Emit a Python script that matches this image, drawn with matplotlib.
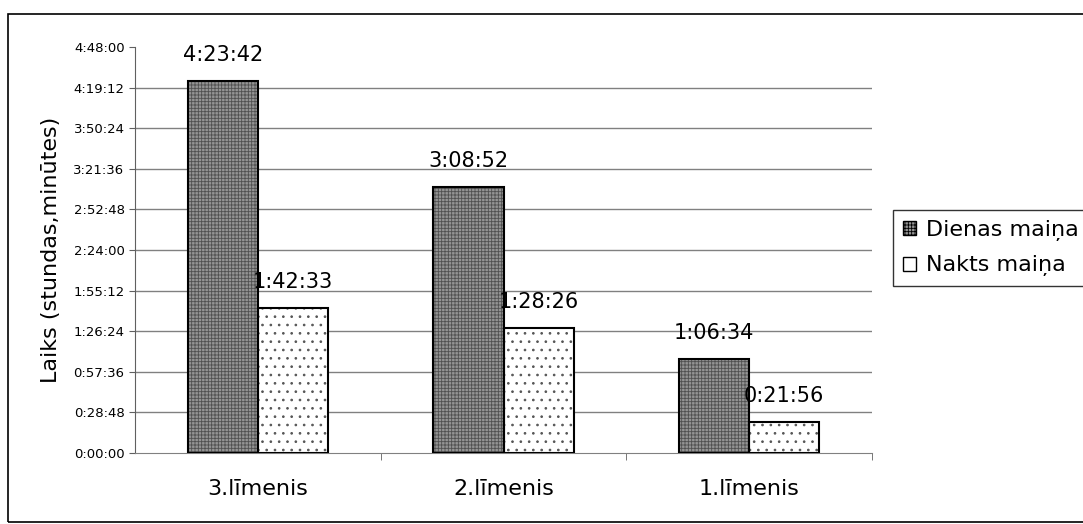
import numpy as np
import matplotlib
matplotlib.use('Agg')
import matplotlib.pyplot as plt
from matplotlib.patches import Rectangle, Patch
from matplotlib.ticker import FixedLocator, FuncFormatter

# dati: laiks sekundēs
limeni = ['3.līmenis', '2.līmenis', '1.līmenis']
dienas = [4*3600 + 23*60 + 42, 3*3600 + 8*60 + 52, 1*3600 + 6*60 + 34]
nakts = [1*3600 + 42*60 + 33, 1*3600 + 28*60 + 26, 0*3600 + 21*60 + 56]
serijas = ['Dienas maiņa', 'Nakts maiņa']
solis = 1728  # 0:28:48


def hms(s, pos=None):
    s = int(round(s))
    return '%d:%02d:%02d' % (s // 3600, (s % 3600) // 60, s % 60)


plt.rcParams['font.family'] = ['DejaVu Sans']
plt.rcParams['hatch.linewidth'] = 0.6

fig = plt.figure(figsize=(10.83, 5.24), dpi=100)
# ārējais rāmis (labā mala ārpus attēla)
fig.patches.append(Rectangle((7.5 / 1083, 2 / 524), 1100 / 1083, 508 / 524,
                             transform=fig.transFigure, fill=False,
                             edgecolor='black', linewidth=1.2))
ax = fig.add_axes([135 / 1083, 71 / 524, 737 / 1083, 406 / 524])

x = np.arange(len(limeni))
w = 1 / 3.5
# dienas maiņa - tumšs rūtots
ax.bar(x - w / 2, dienas, w, color='#949494', hatch='+++++', edgecolor='#505050',
       linewidth=0, zorder=3)
ax.bar(x - w / 2, dienas, w, fill=False, edgecolor='black', linewidth=1.5, zorder=4)
# nakts maiņa - balts ar punktiem
plt.rcParams['hatch.linewidth'] = 0.7
ax.bar(x + w / 2, nakts, w, color='white', hatch='..', edgecolor='#555555',
       linewidth=0, zorder=3)
ax.bar(x + w / 2, nakts, w, fill=False, edgecolor='black', linewidth=1.5, zorder=4)
plt.rcParams['hatch.linewidth'] = 0.6

for xi, v in zip(x - w / 2, dienas):
    ax.text(xi, v + 850, hms(v), ha='center', va='baseline', fontsize=15, zorder=5)
for xi, v in zip(x + w / 2, nakts):
    ax.text(xi, v + 850, hms(v), ha='center', va='baseline', fontsize=15, zorder=5)

ax.set_xlim(-0.5, 2.5)
ax.set_ylim(0, 10 * solis)
ax.yaxis.set_major_locator(FixedLocator(np.arange(0, 11) * solis))
ax.yaxis.set_major_formatter(FuncFormatter(hms))
ax.tick_params(axis='y', labelsize=9.5, length=4.5, color='#606060', pad=3)
for yv in np.arange(1, 10) * solis:
    ax.axhline(yv, color='#808080', linewidth=1, zorder=1)

ax.set_xticks(x)
ax.set_xticklabels(limeni, fontsize=16)
ax.tick_params(axis='x', which='major', length=0, pad=19)
ax.xaxis.set_minor_locator(FixedLocator([0.5, 1.5, 2.5]))
ax.tick_params(axis='x', which='minor', length=5, color='#606060')

for s in ['top', 'right']:
    ax.spines[s].set_visible(False)
ax.spines['left'].set_color('#606060')
ax.spines['bottom'].set_color('#808080')

ax.set_ylabel('Laiks (stundas,minūtes)', fontsize=16, labelpad=9)

handles = [Patch(facecolor='#949494', hatch='+++++', edgecolor='black'),
           Patch(facecolor='white', edgecolor='black')]
leg = fig.legend(handles, serijas, loc='upper left',
                 bbox_to_anchor=(893 / 1083, 1 - 210 / 524), fontsize=16,
                 frameon=True, fancybox=False, handlelength=0.6, handleheight=0.6,
                 handletextpad=0.45, borderpad=0.45, labelspacing=0.65,
                 borderaxespad=0)
leg.get_frame().set_edgecolor('black')
leg.get_frame().set_linewidth(1)

fig.savefig('out.png', dpi=100)
